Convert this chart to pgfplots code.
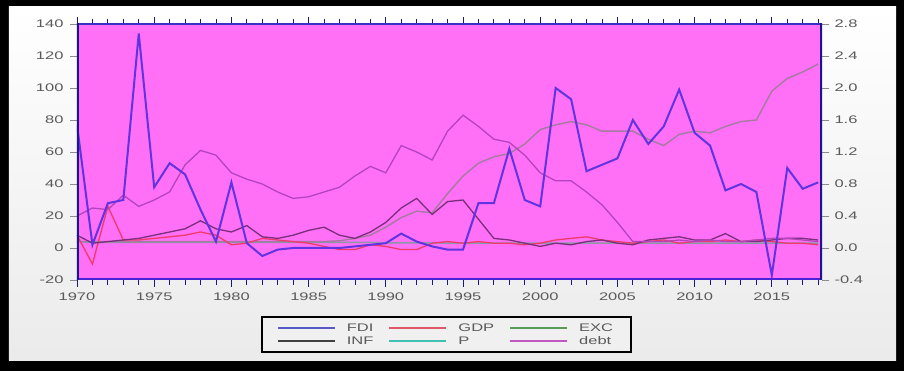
\documentclass[border=0pt]{standalone}
\usepackage{fontspec}
\setmainfont{Liberation Sans}[FakeStretch=1.5]
\usepackage{pgfplots}
\usepackage{pgfplotstable}
\pgfplotsset{compat=1.18}
\usetikzlibrary{backgrounds}

\definecolor{bgmag}{HTML}{FF70F6}
\definecolor{axdark}{HTML}{1C1490}
\definecolor{axbot}{HTML}{4A22D8}
\definecolor{axtop}{HTML}{3A30C8}
\definecolor{cFDI}{HTML}{6034E0}
\definecolor{cGDP}{HTML}{F03A6A}
\definecolor{cEXC}{HTML}{A47AA0}
\definecolor{cINF}{HTML}{7A2E7C}
\definecolor{cP}{HTML}{8A98A8}
\definecolor{cdebt}{HTML}{B444BC}
\definecolor{lFDI}{HTML}{5858C8}
\definecolor{lGDP}{HTML}{E05868}
\definecolor{lEXC}{HTML}{5A9A5A}
\definecolor{lINF}{HTML}{404040}
\definecolor{lP}{HTML}{40C0B0}
\definecolor{ldebt}{HTML}{C058C0}
\definecolor{txt}{HTML}{5A5A5A}

\pgfplotstableread{
year FDI GDP EXC INF P debt
1970 77 8 4 8 4 20
1971 2 -10 4 3 3.5 25
1972 28 26 4 4 3.5 24
1973 30 5 4 5 3.5 33
1974 134 5 4 6 3.5 26
1975 38 6 4 8 3.5 30
1976 53 7 4 10 3.5 35
1977 46 8 4 12 3.5 52
1978 24 10 4 17 3.5 61
1979 4 8 4 12 3.5 58
1980 41 2 4 10 3.5 47
1981 3 3 4 14 3.5 43
1982 -5 6 4 7 3.5 40
1983 -1 5 4 6 3.5 35
1984 0 4 4 8 3.5 31
1985 0 3 4 11 3.5 32
1986 0 1 4 13 3.5 35
1987 0 -1 4.5 8 3.5 38
1988 1 -1 6 6 3.5 45
1989 2 2 8 10 3.5 51
1990 3 1 13 16 3.2 47
1991 9 -1 19 25 3.2 64
1992 4 -1 23 31 3.2 60
1993 1 3 22 21 3.2 55
1994 -1 4 34 29 3 73
1995 -1 3 45 30 3 83
1996 28 4 53 18 3 76
1997 28 3 57 6 3 68
1998 62 3 59 5 3 66
1999 30 2 65 3 3 58
2000 26 3 74 1 3 47
2001 100 5 77 3 3 42
2002 93 6 79 2 3 42
2003 48 7 77 4 3 35
2004 52 5 73 5 3 27
2005 56 4 73 3 3 16
2006 80 3 73 2 3 4
2007 65 4 68 5 3 4
2008 76 5 64 6 3 4
2009 99 3 71 7 3 5
2010 72 4 73 5 3 4
2011 64 4 72 5 3 5
2012 36 5 76 9 3 4
2013 40 4 79 4 3 4
2014 35 5 80 4 3 5
2015 -17 4 98 5 3 6
2016 50 3 106 6 3 6
2017 37 3 110 6 3 5
2018 41 2 115 5 3 4
}\datatable

\begin{document}
\begin{tikzpicture}[font=\fontsize{11}{13}\selectfont]
\begin{axis}[
  name=main, at={(0,0)}, anchor=south west,
  scale only axis, width=745pt, height=256pt,
  xmin=1970, xmax=2018.25, ymin=-20, ymax=140,
  axis line style={draw=none},
  axis background/.style={fill=bgmag},
  ytick={-20,0,20,40,60,80,100,120,140},
  xtick={1970,1975,...,2015},
  minor xtick={1970,...,2018},
  tick align=outside,
  major tick length=7pt, minor tick length=5pt,
  x tick style={color=axdark, line width=0.8pt},
  y tick style={color=black!45, line width=0.6pt},
  /pgf/number format/assume math mode=true,
  /pgf/number format/1000 sep={},
  tick label style={text=txt, font=\fontsize{11}{13}\selectfont},
  yticklabel style={xshift=-3pt},
  xticklabel style={yshift=-2pt},
  legend columns=3,
  legend cell align=left,
  legend image code/.code={\fill[#1] (0pt,-0.9pt) rectangle (57pt,0.9pt);},
  legend style={at={(axis description cs:0.5,0)}, anchor=north,
    yshift=-36pt, xshift=-3pt, draw=black, line width=1.6pt,
    fill=white!94!black, inner xsep=16pt, inner ysep=5pt,
    nodes={inner sep=2pt, text depth=0pt},
    /tikz/row sep=1.5pt,
    /tikz/every odd column/.append style={column sep=10pt},
    /tikz/every even column/.append style={column sep=14pt},
    font=\fontsize{11}{13}\selectfont},
]
\addplot[color=cP, line width=1.4pt, forget plot] table[x=year,y=P]{\datatable};
\addplot[color=cEXC, line width=1.4pt, forget plot] table[x=year,y=EXC]{\datatable};
\addplot[color=cGDP, line width=1.3pt, forget plot] table[x=year,y=GDP]{\datatable};
\addplot[color=cINF, line width=1.3pt, forget plot] table[x=year,y=INF]{\datatable};
\addplot[color=cdebt, line width=1.3pt, forget plot] table[x=year,y=debt]{\datatable};
\addplot[color=cFDI, line width=2pt, forget plot] table[x=year,y=FDI]{\datatable};
\addlegendimage{fill=lFDI, draw=none}\addlegendentry{\textcolor{txt}{FDI}}
\addlegendimage{fill=lGDP, draw=none}\addlegendentry{\textcolor{txt}{GDP}}
\addlegendimage{fill=lEXC, draw=none}\addlegendentry{\textcolor{txt}{EXC}}
\addlegendimage{fill=lINF, draw=none}\addlegendentry{\textcolor{txt}{INF}}
\addlegendimage{fill=lP, draw=none}\addlegendentry{\textcolor{txt}{P}}
\addlegendimage{fill=ldebt, draw=none}\addlegendentry{\textcolor{txt}{debt}}
\end{axis}
\begin{axis}[
  at={(0,0)}, anchor=south west,
  scale only axis, width=745pt, height=256pt,
  xmin=1970, xmax=2018.25, ymin=-0.4, ymax=2.8,
  axis x line=none, axis y line*=right,
  axis line style={draw=none},
  ytick={-0.4,0,0.4,0.8,1.2,1.6,2.0,2.4,2.8},
  tick align=outside, major tick length=7pt,
  y tick style={color=black!45, line width=0.6pt},
  /pgf/number format/assume math mode=true,
  yticklabel style={/pgf/number format/.cd, fixed, fixed zerofill, precision=1, /tikz/.cd, text=txt, font=\fontsize{11}{13}\selectfont, xshift=2pt},
]
\draw[color=axtop, line width=1.2pt] (rel axis cs:0,1) -- (rel axis cs:1,1);
\draw[color=axbot, line width=3.5pt] (rel axis cs:0,0) -- (rel axis cs:1,0);
\draw[color=axdark, line width=4pt] (rel axis cs:0,-0.005) -- (rel axis cs:0,1.003);
\draw[color=axdark, line width=3.5pt] (rel axis cs:1,-0.005) -- (rel axis cs:1,1.003);
\end{axis}
\begin{scope}[on background layer]
  \fill[black] ([shift={(-77pt,-91pt)}]main.south west) rectangle ([shift={(827pt,280pt)}]main.south west);
  \shade[top color=white, bottom color=white!92!black] ([shift={(-68pt,-81pt)}]main.south west) rectangle ([shift={(819pt,273pt)}]main.south west);
\end{scope}
\end{tikzpicture}
\end{document}
